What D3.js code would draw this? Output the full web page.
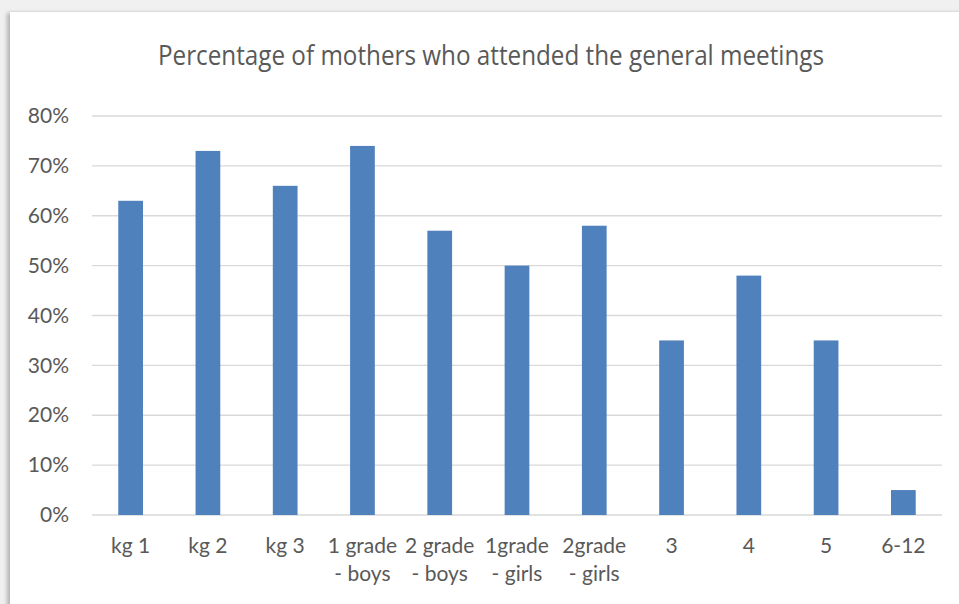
<!DOCTYPE html>
<html>
<head>
<meta charset="utf-8">
<script src="https://cdn.jsdelivr.net/npm/d3@7"></script>
<style>
  body { margin: 0; background: #f0f0f0; width: 959px; height: 604px; overflow: hidden; }
  #card { position: absolute; left: 10px; top: 11px; width: 960px; height: 600px; background: #fff;
          border-top: 1px solid #dcdcdc; box-shadow: -3px 2px 4px rgba(0,0,0,0.25); }
  svg { position: absolute; left: 0; top: 0; }
</style>
</head>
<body>
<div id="card"></div>
<script>
// Chart values
var categories = [["kg 1"], ["kg 2"], ["kg 3"], ["1 grade", "- boys"], ["2 grade", "- boys"],
  ["1grade", "- girls"], ["2grade", "- girls"], ["3"], ["4"], ["5"], ["6-12"]];
var values = [63, 73, 66, 74, 57, 50, 58, 35, 48, 35, 5];
var yTicks = [0, 10, 20, 30, 40, 50, 60, 70, 80];
var title = "Percentage of mothers who attended the general meetings";

var w = 959, h = 604;
var margin = { top: 116, right: 17, bottom: 89, left: 92 };
var width = w - margin.left - margin.right;
var height = h - margin.top - margin.bottom;

var svg = d3.select("body").append("svg")
  .attr("width", w)
  .attr("height", h);

// Title
svg.append("text")
  .attr("x", 491)
  .attr("y", 65)
  .attr("text-anchor", "middle")
  .attr("font-family", "'Liberation Sans Narrow', 'Open Sans', sans-serif")
  .attr("font-size", 27)
  .attr("fill", "#595959")
  .attr("textLength", 666)
  .attr("lengthAdjust", "spacingAndGlyphs")
  .text(title);

var g = svg.append("g")
  .attr("transform", "translate(" + margin.left + "," + margin.top + ")");

// Scales
var xScale = d3.scaleBand().domain(d3.range(categories.length)).range([0, width]).paddingInner(0.68).paddingOuter(0.34);
var yScale = d3.scaleLinear().domain([0, 80]).range([height, 0]);

// Gridlines
g.selectAll("line.grid").data(yTicks).enter().append("line")
  .attr("class", "grid")
  .attr("x1", 0).attr("x2", width)
  .attr("y1", function(d) { return yScale(d); })
  .attr("y2", function(d) { return yScale(d); })
  .attr("stroke", "#d9d9d9")
  .attr("stroke-width", 1.3);

// Y axis
var yAxis = d3.axisLeft(yScale).tickValues(yTicks).tickSize(0).tickPadding(23)
  .tickFormat(function(d) { return d + "%"; });
var yg = g.append("g").call(yAxis);
yg.select(".domain").remove();
yg.selectAll("text")
  .attr("font-family", "Lato, 'Open Sans', sans-serif")
  .attr("font-size", 21)
  .attr("fill", "#595959");

// Bars
g.selectAll("rect").data(values).enter().append("rect")
  .attr("x", function(d, i) { return xScale(i); })
  .attr("y", function(d) { return yScale(d); })
  .attr("width", xScale.bandwidth())
  .attr("height", function(d) { return height - yScale(d); })
  .attr("fill", "#4f81bd");

// X labels
var xl = g.selectAll("text.xl").data(categories).enter().append("text")
  .attr("class", "xl")
  .attr("x", function(d, i) { return xScale(i) + xScale.bandwidth() / 2; })
  .attr("y", height + 38)
  .attr("text-anchor", "middle")
  .attr("font-family", "Lato, 'Open Sans', sans-serif")
  .attr("font-size", 21)
  .attr("fill", "#595959");
xl.selectAll("tspan").data(function(d) { return d; }).enter().append("tspan")
  .attr("x", function() { return d3.select(this.parentNode).attr("x"); })
  .attr("dy", function(d, i) { return i === 0 ? 0 : 28; })
  .text(function(d) { return d; });
</script>
</body>
</html>
